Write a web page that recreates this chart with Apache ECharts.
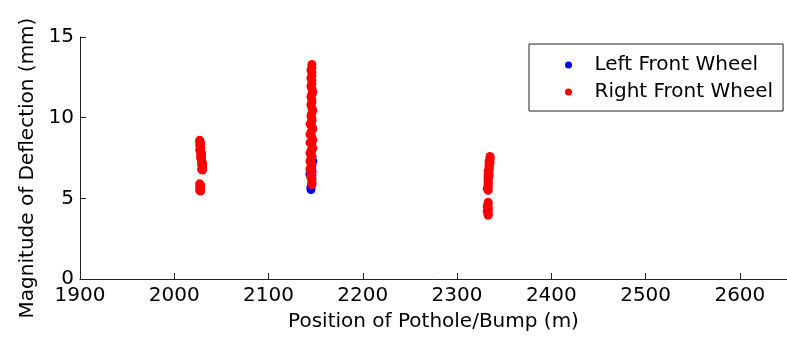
<!DOCTYPE html>
<html>
<head>
<meta charset="utf-8">
<script src="https://cdn.jsdelivr.net/npm/echarts@6/dist/echarts.min.js"></script>
<style>
html,body{margin:0;padding:0;background:#fff;}
#chart{width:787px;height:337px;}
</style>
</head>
<body>
<div id="chart"></div>
<script>
const seriesNames = ['Left Front Wheel', 'Right Front Wheel'];
const xTicks = [1900, 2000, 2100, 2200, 2300, 2400, 2500, 2600];
const yTicks = [0, 5, 10, 15];

// Left front wheel: [position (m), deflection (mm)]
const leftFront = [
  [2146, 8.0], [2146, 7.6], [2147, 7.3], [2145, 7.2], [2146, 7.0], [2146, 6.7],
  [2144, 6.5], [2146, 6.4], [2146, 6.2], [2146, 5.9], [2145, 5.7], [2145, 5.55]
];

// Right front wheel: [position (m), deflection (mm)]
const rightFront = [
  // ~2028 m
  [2027, 8.6], [2027, 8.5], [2028, 8.4], [2027, 8.3], [2028, 8.2], [2028, 8.1],
  [2027, 8.0], [2028, 7.9], [2029, 7.8], [2028, 7.7], [2029, 7.6], [2028, 7.5],
  [2029, 7.4], [2029, 7.3], [2030, 7.2], [2029, 7.1], [2030, 7.0], [2030, 6.9],
  [2029, 6.8], [2030, 6.75],
  [2027, 5.9], [2028, 5.8], [2027, 5.7], [2028, 5.6], [2027, 5.5], [2028, 5.45],
  // ~2145 m
  [2146, 13.3], [2146, 13.1], [2145, 12.95], [2146, 12.8], [2146, 12.6], [2145, 12.45],
  [2146, 12.3], [2146, 12.1], [2145, 11.95], [2146, 11.8], [2147, 11.6], [2146, 11.45],
  [2145, 11.3], [2146, 11.1], [2146, 10.95], [2145, 10.8], [2146, 10.6], [2147, 10.45],
  [2146, 10.3], [2145, 10.1], [2146, 9.95], [2146, 9.8], [2144, 9.6], [2146, 9.45],
  [2147, 9.3], [2145, 9.1], [2144, 8.95], [2146, 8.8], [2147, 8.6], [2144, 8.45],
  [2146, 8.3], [2147, 8.1], [2145, 7.95], [2144, 7.8], [2146, 7.6], [2145, 7.45],
  [2144, 7.3], [2146, 7.1], [2145, 6.95], [2144, 6.8], [2146, 6.6], [2145, 6.45],
  [2145, 6.3], [2146, 6.15], [2146, 6.0], [2146, 5.85],
  // ~2334 m
  [2335, 7.6], [2335, 7.5], [2335, 7.4], [2334, 7.3], [2335, 7.2], [2334, 7.1],
  [2334, 7.0], [2334, 6.9], [2334, 6.8], [2333, 6.7], [2334, 6.6], [2333, 6.5],
  [2334, 6.4], [2333, 6.3], [2333, 6.2], [2333, 6.1], [2333, 6.0], [2333, 5.9],
  [2333, 5.8], [2333, 5.7], [2332, 5.6], [2333, 5.5],
  [2333, 4.75], [2333, 4.6], [2332, 4.5], [2333, 4.4], [2333, 4.3], [2332, 4.2],
  [2333, 4.1], [2333, 4.0], [2333, 3.95]
];

const FONT = 'DejaVu Sans';
const chart = echarts.init(document.getElementById('chart'), null, {renderer: 'canvas'});
chart.setOption({
  animation: false,
  backgroundColor: '#ffffff',
  textStyle: {fontFamily: FONT, color: '#000'},
  grid: {left: 80, top: 37, right: 0, bottom: 56, containLabel: false},
  xAxis: {
    type: 'value', min: 1900, max: 2650, interval: 100,
    name: 'Position of Pothole/Bump (m)', nameLocation: 'middle', nameGap: 33,
    nameTextStyle: {fontFamily: FONT, fontSize: 20, color: '#000'},
    axisLine: {show: true, onZero: false, lineStyle: {color: '#222', width: 1}},
    axisTick: {show: true, inside: true, length: 6, customValues: xTicks, lineStyle: {color: '#222'}},
    axisLabel: {show: true, customValues: xTicks, margin: 7, fontFamily: FONT, fontSize: 20, color: '#000',
      formatter: function (v) { return String(v); }},
    splitLine: {show: false}
  },
  yAxis: {
    type: 'value', min: 0, max: 15, interval: 5,
    name: 'Magnitude of Deflection (mm)', nameLocation: 'middle', nameGap: 38,
    nameTextStyle: {fontFamily: FONT, fontSize: 20, color: '#000', padding: [0, 20, 0, 0]},
    axisLine: {show: true, onZero: false, lineStyle: {color: '#222', width: 1}},
    axisTick: {show: true, inside: true, length: 6, customValues: yTicks, lineStyle: {color: '#222'}},
    axisLabel: {show: true, customValues: yTicks, margin: 6, fontFamily: FONT, fontSize: 20, color: '#000',
      formatter: function (v) { return String(v); }},
    splitLine: {show: false}
  },
  legend: {
    orient: 'vertical', left: 529, top: 44,
    padding: [11, 10, 9, 36], itemGap: 7,
    itemWidth: 42, itemHeight: 7,
    backgroundColor: '#fff', borderColor: '#222', borderWidth: 1,
    textStyle: {fontFamily: FONT, fontSize: 20, color: '#000'},
    data: [{name: seriesNames[0], icon: 'circle'}, {name: seriesNames[1], icon: 'circle'}]
  },
  series: [
    {name: seriesNames[0], type: 'scatter', data: leftFront, symbol: 'circle', symbolSize: 9,
     itemStyle: {color: '#0000ff', opacity: 1}, z: 2},
    {name: seriesNames[1], type: 'scatter', data: rightFront, symbol: 'circle', symbolSize: 9,
     itemStyle: {color: '#ff0000', opacity: 1}, z: 3}
  ]
});
</script>
</body>
</html>
